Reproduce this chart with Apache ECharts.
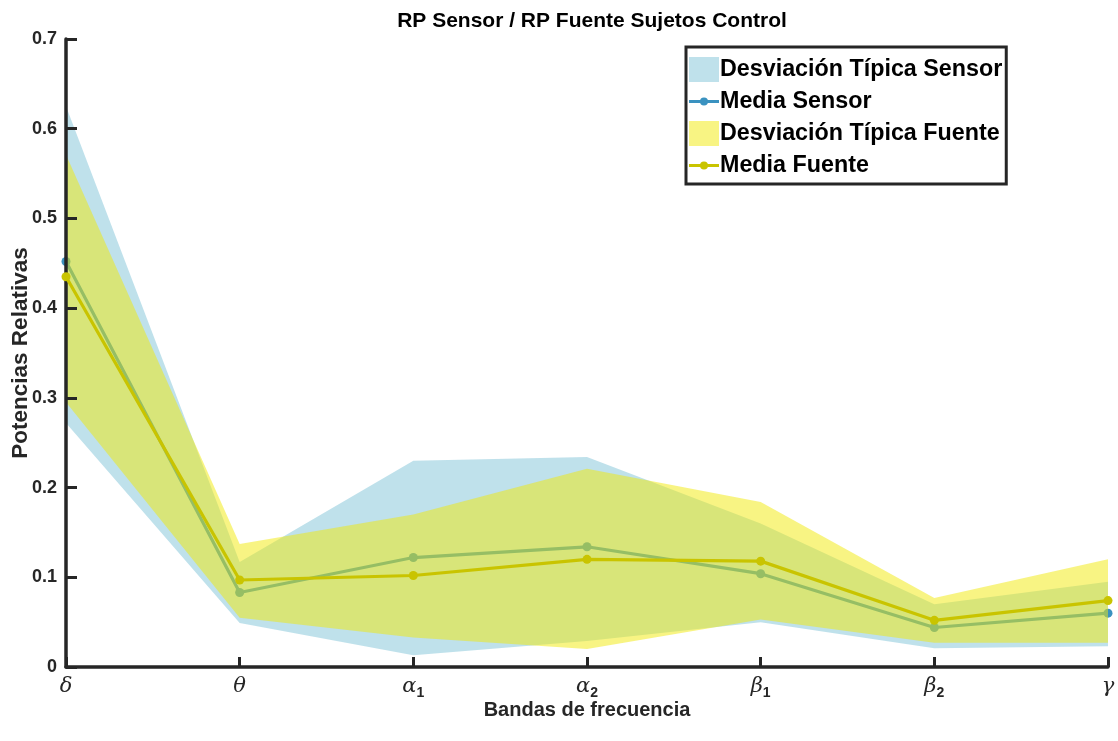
<!DOCTYPE html>
<html>
<head>
<meta charset="utf-8">
<script src="https://cdn.jsdelivr.net/npm/echarts@6/dist/echarts.min.js"></script>
<style>
  html, body { margin: 0; padding: 0; background: #ffffff; }
  #chart { width: 1118px; height: 741px; }
</style>
</head>
<body>
<div id="chart"></div>
<script>
// Frequency bands (subscript digit after the Greek letter)
const bands = ['δ', 'θ', 'α1', 'α2', 'β1', 'β2', 'γ'];

// Relative power, sensor space: mean and ±1 SD envelope
const sensorMean  = [0.452, 0.083, 0.122, 0.134, 0.104, 0.044, 0.060];
const sensorLower = [0.272, 0.049, 0.013, 0.029, 0.050, 0.021, 0.023];
const sensorUpper = [0.625, 0.117, 0.230, 0.234, 0.160, 0.070, 0.095];

// Relative power, source space: mean and ±1 SD envelope
const fuenteMean  = [0.435, 0.097, 0.102, 0.120, 0.118, 0.052, 0.074];
const fuenteLower = [0.295, 0.055, 0.033, 0.020, 0.053, 0.027, 0.027];
const fuenteUpper = [0.571, 0.137, 0.170, 0.221, 0.184, 0.077, 0.120];

const yTicks = { min: 0, max: 0.7, step: 0.1 };

const AXIS = '#262626';
const SENSOR_BAND = 'rgba(173,216,230,0.78)';
const SENSOR_LINE = '#3a92c0';
const FUENTE_BAND = 'rgba(242,234,8,0.5)';
const FUENTE_LINE = '#c9c400';

// legend glyph for a mean series: short line with a small dot in the middle
const LINE_DOT_ICON = 'path://M0,10.5H30V13.5H0Z M11,12a4,4 0 1,1 8,0a4,4 0 1,1 -8,0Z';

const diff = (hi, lo) => hi.map((v, i) => +(v - lo[i]).toFixed(4));

function bandLabel(name) {
  const base = name.charAt(0);
  const sub = name.slice(1);
  return sub ? '{g|' + base + '}{s|' + sub + '}' : '{g|' + base + '}';
}

function envelope(stackId, lower, upper, name, color, z) {
  return [
    {
      name: stackId + '-base', type: 'line', stack: stackId, data: lower, z: z,
      symbol: 'none', lineStyle: { opacity: 0 }, silent: true
    },
    {
      name: name, type: 'line', stack: stackId, data: diff(upper, lower), z: z,
      symbol: 'none', lineStyle: { opacity: 0 },
      itemStyle: { color: color },
      areaStyle: { color: color, opacity: 1 }, silent: true
    }
  ];
}

function meanLine(name, data, color, z) {
  return {
    name: name, type: 'line', data: data, z: z,
    symbol: 'circle', symbolSize: 9, showSymbol: true,
    lineStyle: { color: color, width: 3.2 },
    itemStyle: { color: color },
    clip: false
  };
}

const chart = echarts.init(document.getElementById('chart'));
chart.setOption({
  backgroundColor: '#ffffff',
  animation: false,
  title: {
    text: 'RP Sensor / RP Fuente Sujetos Control',
    left: 587, top: 6, textAlign: 'center',
    textStyle: { fontFamily: 'Liberation Sans, Arial', fontSize: 21, fontWeight: 'bold', color: '#000' }
  },
  grid: { left: 66, right: 10, top: 39, bottom: 74, outerBoundsMode: 'none' },
  legend: {
    left: 686, top: 47, z: 10,
    orient: 'vertical',
    padding: [10, 4, 7, 3],
    itemWidth: 30, itemHeight: 25, itemGap: 8,
    backgroundColor: '#ffffff',
    borderColor: AXIS, borderWidth: 3,
    selectedMode: false,
    textStyle: { fontFamily: 'Liberation Sans, Arial', fontSize: 23.3, fontWeight: 'bold', color: '#000', padding: [0, 0, 0, -4] },
    data: [
      { name: 'Desviación Típica Sensor', icon: 'rect' },
      { name: 'Media Sensor', icon: LINE_DOT_ICON },
      { name: 'Desviación Típica Fuente', icon: 'rect' },
      { name: 'Media Fuente', icon: LINE_DOT_ICON }
    ]
  },
  xAxis: {
    type: 'category', data: bands, boundaryGap: false, z: 5,
    name: 'Bandas de frecuencia', nameLocation: 'middle', nameGap: 33, nameMoveOverlap: false,
    nameTextStyle: { fontFamily: 'Liberation Sans, Arial', fontSize: 20, fontWeight: 'bold', color: AXIS },
    axisLine: { lineStyle: { color: AXIS, width: 3.5 } },
    axisTick: { inside: true, length: 10, lineStyle: { color: AXIS, width: 3 } },
    axisLabel: {
      margin: 9,
      formatter: bandLabel,
      rich: {
        g: { fontFamily: 'DejaVu Serif, Liberation Serif', fontStyle: 'italic', fontSize: 21, color: AXIS, verticalAlign: 'top' },
        s: { fontFamily: 'Liberation Sans, Arial', fontSize: 14, fontWeight: 'bold', color: AXIS, padding: [10, 0, 0, 0], verticalAlign: 'top' }
      }
    },
    splitLine: { show: false }
  },
  yAxis: {
    type: 'value', min: yTicks.min, max: yTicks.max, interval: yTicks.step, z: 5,
    name: 'Potencias Relativas', nameLocation: 'middle', nameGap: 34, nameMoveOverlap: false,
    nameTextStyle: { fontFamily: 'Liberation Sans, Arial', fontSize: 22.5, fontWeight: 'bold', color: AXIS },
    axisLine: { show: true, lineStyle: { color: AXIS, width: 3.5 } },
    axisTick: { show: true, inside: true, length: 11, lineStyle: { color: AXIS, width: 3 } },
    axisLabel: {
      margin: 9,
      fontFamily: 'Liberation Sans, Arial', fontSize: 18, fontWeight: 'bold', color: AXIS,
      formatter: v => (v === 0 ? '0' : v.toFixed(1))
    },
    splitLine: { show: false }
  },
  series: [
    ...envelope('sensor', sensorLower, sensorUpper, 'Desviación Típica Sensor', SENSOR_BAND, 1),
    meanLine('Media Sensor', sensorMean, SENSOR_LINE, 2),
    ...envelope('fuente', fuenteLower, fuenteUpper, 'Desviación Típica Fuente', FUENTE_BAND, 3),
    meanLine('Media Fuente', fuenteMean, FUENTE_LINE, 6)
  ]
});
</script>
</body>
</html>
